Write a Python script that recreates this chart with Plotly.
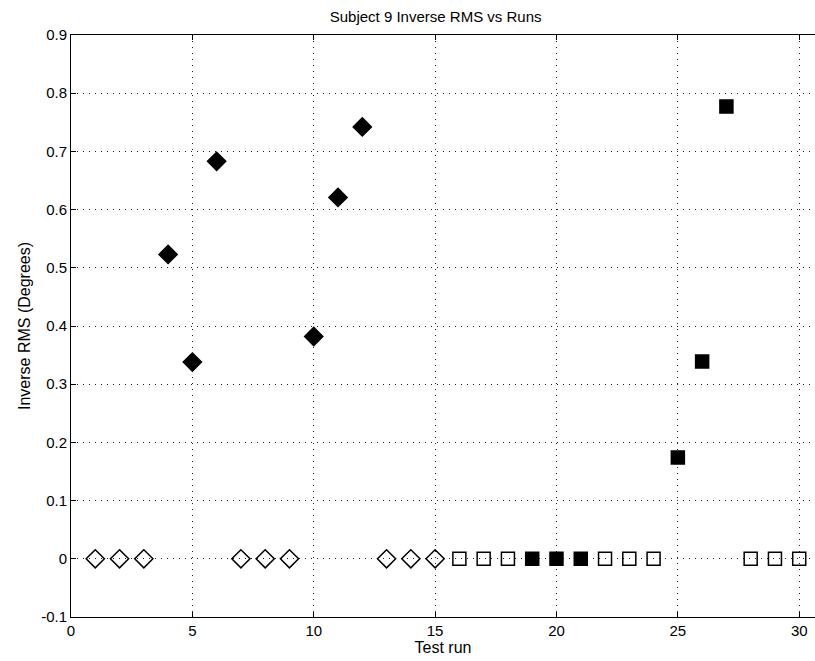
import plotly.graph_objects as go

# Runs 1-15: diamond markers; runs 16-30: square markers
diamond_runs = list(range(1, 16))
diamond_vals = [0, 0, 0, 0.523, 0.338, 0.683, 0, 0, 0, 0.382, 0.621, 0.742, 0, 0, 0]
diamond_filled = [False, False, False, True, True, True, False, False, False,
                  True, True, True, False, False, False]

square_runs = list(range(16, 31))
square_vals = [0, 0, 0, 0, 0, 0, 0, 0, 0, 0.174, 0.339, 0.777, 0, 0, 0]
square_filled = [False, False, False, True, True, True, False, False, False,
                 True, True, True, False, False, False]

x_ticks = [0, 5, 10, 15, 20, 25, 30]
y_ticks = [-0.1, 0, 0.1, 0.2, 0.3, 0.4, 0.5, 0.6, 0.7, 0.8, 0.9]
y_tick_text = ["-0.1", "0", "0.1", "0.2", "0.3", "0.4", "0.5", "0.6", "0.7", "0.8", "0.9"]

FONT = "Liberation Sans, Arial, sans-serif"


def pick(xs, ys, flags, want):
    px = [x for x, f in zip(xs, flags) if f == want]
    py = [y for y, f in zip(ys, flags) if f == want]
    return px, py


fig = go.Figure()

for runs, vals, flags, sym, size in [
    (diamond_runs, diamond_vals, diamond_filled, "diamond", 14),
    (square_runs, square_vals, square_filled, "square", 13),
]:
    ox, oy = pick(runs, vals, flags, False)
    fx, fy = pick(runs, vals, flags, True)
    fig.add_trace(go.Scatter(
        x=ox, y=oy, mode="markers", showlegend=False, cliponaxis=False,
        marker=dict(symbol=sym + "-open", size=size, color="black",
                    line=dict(color="black", width=1.5)),
    ))
    fig.add_trace(go.Scatter(
        x=fx, y=fy, mode="markers", showlegend=False, cliponaxis=False,
        marker=dict(symbol=sym, size=size, color="black",
                    line=dict(color="black", width=1.5)),
    ))

axis_common = dict(
    showline=True, linecolor="black", linewidth=1,
    ticks="inside", ticklen=5, tickcolor="black",
    showgrid=True, gridcolor="#222222", gridwidth=1, griddash="1px,5px",
    zeroline=False,
    tickfont=dict(family=FONT, size=15, color="black"),
)

fig.update_layout(
    width=815, height=661,
    margin=dict(l=71, r=0, t=35, b=44),
    paper_bgcolor="white", plot_bgcolor="white",
    title=dict(text="Subject 9 Inverse RMS vs Runs", x=0.5345, xanchor="center",
               y=0.974, yanchor="middle",
               font=dict(family=FONT, size=15, color="black")),
    xaxis=dict(range=[0, 30.65], tickvals=x_ticks, mirror="ticks",
               title=dict(text="Test run", standoff=0,
                          font=dict(family=FONT, size=16, color="black")),
               **axis_common),
    yaxis=dict(range=[-0.1, 0.9], tickvals=y_ticks, ticktext=y_tick_text, mirror=False,
               title=dict(text="Inverse RMS (Degrees)", standoff=6,
                          font=dict(family=FONT, size=16, color="black")),
               **axis_common),
)

fig.write_html("out.html")
